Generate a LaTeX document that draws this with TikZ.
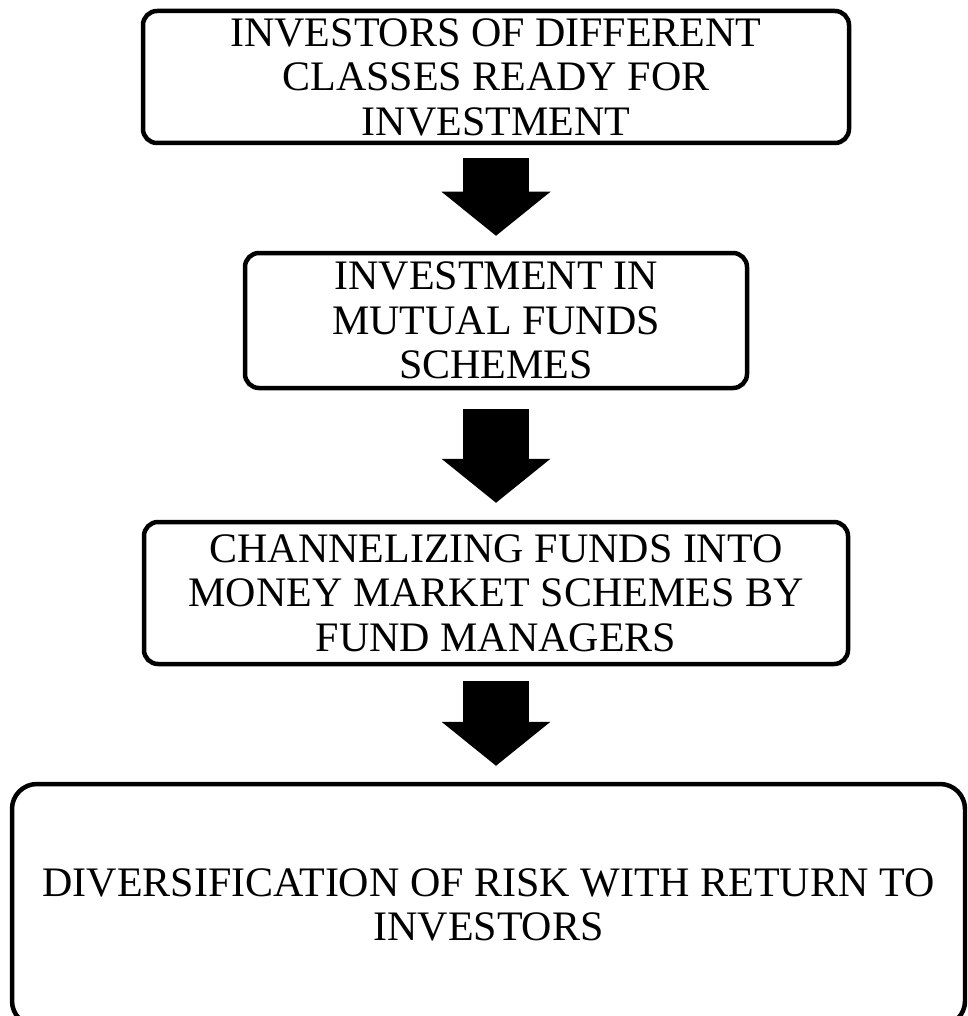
\documentclass[tikz,border=0pt]{standalone}
\usepackage{fontspec}
\setmainfont{Liberation Serif}
\usetikzlibrary{arrows.meta,calc}
\tikzset{
  box/.style={draw=black, line width=4.5pt, rounded corners=#1, fill=white, align=center, inner sep=0pt, font=\fontsize{42}{44.5}\selectfont},
  box/.default={14pt},
  blockarrow/.style={line width=66pt, draw=black, -{Triangle[length=44pt, width=109pt, line width=0pt]}}
}
\begin{document}
\begin{tikzpicture}[x=1pt, y=1pt]
        \useasboundingbox (0,0) rectangle (967,-1016);
        \clip (0,0) rectangle (967,-1016);
        \node[box, minimum width=706pt, minimum height=132pt] (inv) at (496,-77) {INVESTORS OF DIFFERENT\\CLASSES READY FOR\\INVESTMENT};
        \node[box, minimum width=502pt, minimum height=135pt] (mf) at (496,-320.5) {INVESTMENT IN\\MUTUAL FUNDS\\SCHEMES};
        \node[box, minimum width=704pt, minimum height=142pt] (ch) at (496,-593) {CHANNELIZING FUNDS INTO\\MONEY MARKET SCHEMES BY\\FUND MANAGERS};
        \node[box=25pt, minimum width=953pt, minimum height=242pt] (ret) at (488.5,-905) {DIVERSIFICATION OF RISK WITH RETURN TO\\INVESTORS};
        \draw[blockarrow] ($(inv.south)+(0,-13)$) -- ($(inv.south |- mf.north)+(0,15)$);
        \draw[blockarrow] ($(mf.south)+(0,-19)$) -- ($(mf.south |- ch.north)+(0,17)$);
        \draw[blockarrow] ($(ch.south)+(0,-15)$) -- ($(ch.south |- ret.north)+(0,16)$);
      \end{tikzpicture}
\end{document}
